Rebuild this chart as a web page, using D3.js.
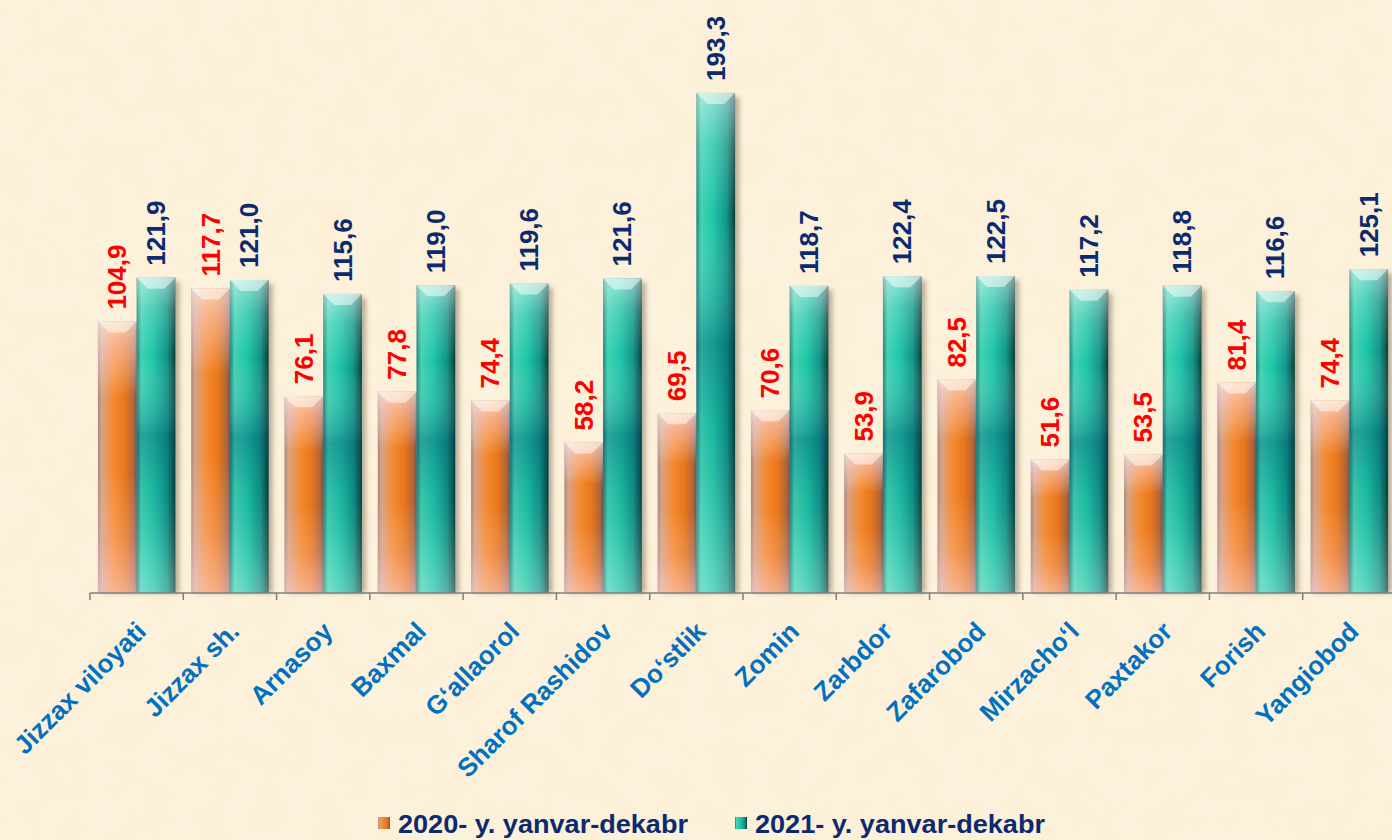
<!DOCTYPE html>
<meta charset="utf-8">
<script src="https://d3js.org/d3.v7.min.js"></script>
<style>
  body { margin: 0; background: #fcf0d9; }
  svg { display: block; font-family: "Liberation Sans", Arial, sans-serif; }
</style>
<div id="chart"></div>
<script>
  // data
  const districts = ["Jizzax viloyati", "Jizzax sh.", "Arnasoy", "Baxmal", "G‘allaorol", "Sharof Rashidov",
    "Do‘stlik", "Zomin", "Zarbdor", "Zafarobod", "Mirzacho‘l", "Paxtakor", "Forish", "Yangiobod"]
  const series = ["2020- y. yanvar-dekabr", "2021- y. yanvar-dekabr"]
  const values2020 = [104.9, 117.7, 76.1, 77.8, 74.4, 58.2, 69.5, 70.6, 53.9, 82.5, 51.6, 53.5, 81.4, 74.4]
  const values2021 = [121.9, 121.0, 115.6, 119.0, 119.6, 121.6, 193.3, 118.7, 122.4, 122.5, 117.2, 118.8, 116.6, 125.1]

  const W = 1392, H = 840
  const baseY = 593

  const svg = d3.select("#chart").append("svg")
    .attr("width", W).attr("height", H)

  const defs = svg.append("defs")

  // background with a faint mottled texture
  const tex = defs.append("filter").attr("id", "paper").attr("x", 0).attr("y", 0).attr("width", 1).attr("height", 1)
  tex.append("feTurbulence").attr("type", "fractalNoise").attr("baseFrequency", 0.035).attr("numOctaves", 2).attr("seed", 3)
  tex.append("feColorMatrix").attr("type", "matrix")
    .attr("values", "0 0 0 0 0.98  0 0 0 0 0.93  0 0 0 0 0.78  0 0 0 1.4 -0.55")
  svg.append("rect").attr("width", W).attr("height", H).attr("fill", "#fcf0d9")
  svg.append("rect").attr("width", W).attr("height", H).attr("filter", "url(#paper)").attr("opacity", 0.5)

  // gradients for the glassy cylinder bars
  function hGrad(id, stops) {
    const g = defs.append("linearGradient").attr("id", id).attr("x1", 0).attr("x2", 1).attr("y1", 0).attr("y2", 0)
    stops.forEach(s => g.append("stop").attr("offset", s[0]).attr("stop-color", s[1]))
  }
  function vGrad(id, stops) {
    const g = defs.append("linearGradient").attr("id", id).attr("x1", 0).attr("x2", 0).attr("y1", 0).attr("y2", 1)
    stops.forEach(s => g.append("stop").attr("offset", s[0]).attr("stop-color", s[1]).attr("stop-opacity", s[2]))
  }
  hGrad("orangeH", [["0%", "#a98a80"], ["10%", "#d9a184"], ["40%", "#f48a30"], ["70%", "#e8761c"], ["92%", "#b0643a"], ["100%", "#76544a"]])
  hGrad("tealH", [["0%", "#1d7f74"], ["12%", "#3fd2b3"], ["45%", "#1cc4a6"], ["78%", "#109488"], ["93%", "#0a5c52"], ["100%", "#06372f"]])
  vGrad("orangeV", [["0%", "#fff", 0.6], ["10%", "#ffe0ee", 0.45], ["28%", "#fff", 0.0], ["55%", "#fff", 0], ["80%", "#ffe0ee", 0.2], ["100%", "#ffe0ee", 0.5]])
  vGrad("tealV", [["0%", "#fff", 0.5], ["10%", "#fff", 0.2], ["25%", "#fff", 0], ["50%", "#064a6a", 0.35], ["68%", "#064a6a", 0.1], ["88%", "#fff", 0.15], ["100%", "#fff", 0.3]])
  const shadow = defs.append("filter").attr("id", "shadow").attr("x", -0.5).attr("y", -0.2).attr("width", 2).attr("height", 1.4)
  shadow.append("feGaussianBlur").attr("stdDeviation", 2.5)

  // scales
  const x0 = d3.scaleBand().domain(districts).range([90, 1396]).paddingInner(0.17).paddingOuter(0.085)
  const x1 = d3.scaleBand().domain(series).range([0, x0.bandwidth()])
  const y = d3.scaleLinear().domain([0, 200]).range([baseY, baseY - 517.4])

  const rows = districts.map((d, i) => ({ name: d, vals: [values2020[i], values2021[i]] }))
  const fills = [["orangeH", "orangeV"], ["tealH", "tealV"]]
  const labelColors = ["#ff0000", "#0b2a6f"]

  const groups = svg.selectAll("g.grp").data(rows).join("g")
    .attr("class", "grp")
    .attr("transform", d => `translate(${x0(d.name)},0)`)

  const bars = groups.selectAll("g.bar")
    .data(d => d.vals.map((v, k) => ({ v, k, s: series[k] })))
    .join("g").attr("class", "bar")

  // soft shadow on the right
  bars.append("rect")
    .attr("x", d => x1(d.s) + 4).attr("y", d => y(d.v) + 4)
    .attr("width", x1.bandwidth()).attr("height", d => baseY - y(d.v) - 4)
    .attr("fill", "#3a3020").attr("opacity", 0.35).attr("filter", "url(#shadow)")
  bars.append("rect")
    .attr("x", d => x1(d.s)).attr("y", d => y(d.v))
    .attr("width", x1.bandwidth()).attr("height", d => baseY - y(d.v))
    .attr("fill", d => `url(#${fills[d.k][0]})`)
  bars.append("rect")
    .attr("x", d => x1(d.s)).attr("y", d => y(d.v))
    .attr("width", x1.bandwidth()).attr("height", d => baseY - y(d.v))
    .attr("fill", d => `url(#${fills[d.k][1]})`)
  // bevelled top
  bars.append("polygon")
    .attr("points", d => {
      const xa = x1(d.s), w = x1.bandwidth(), t = y(d.v), b = 11
      return [[xa, t], [xa + w, t], [xa + w - b, t + b], [xa + b, t + b]].map(p => p.join(",")).join(" ")
    })
    .attr("fill", "#fff").attr("opacity", 0.5)

  // value labels, rotated
  bars.append("text")
    .attr("transform", d => `translate(${x1(d.s) + x1.bandwidth() / 2 + 9},${y(d.v) - 12}) rotate(-90)`)
    .attr("fill", d => labelColors[d.k])
    .style("font-size", "26px").style("font-weight", "bold")
    .text(d => d.v.toFixed(1).replace(".", ","))

  // axis line with ticks between categories
  const axis = svg.append("g")
  axis.append("line").attr("x1", 90).attr("x2", W).attr("y1", baseY).attr("y2", baseY)
    .attr("stroke", "#7f7f7f").attr("stroke-width", 1.5)
  const gap = (x0.step() - x0.bandwidth()) / 2
  axis.selectAll("line.tick").data(districts).join("line").attr("class", "tick")
    .attr("x1", d => x0(d) - gap).attr("x2", d => x0(d) - gap)
    .attr("y1", baseY).attr("y2", baseY + 7)
    .attr("stroke", "#7f7f7f").attr("stroke-width", 1.5)

  // category labels
  axis.selectAll("text").data(districts).join("text")
    .attr("transform", d => `translate(${x0(d) + x0.bandwidth() / 2 + 11},${baseY + 40}) rotate(-45)`)
    .attr("text-anchor", "end")
    .attr("fill", "#0070c0")
    .style("font-size", "26px").style("font-weight", "bold")
    .text(d => d)

  // legend
  const legendX = [378, 735]
  const legendGrad = ["orangeH", "tealH"]
  const legend = svg.selectAll("g.legend").data(series).join("g")
    .attr("class", "legend")
    .attr("transform", (d, i) => `translate(${legendX[i]},0)`)
  legend.append("rect").attr("x", 0).attr("y", 817).attr("width", 12).attr("height", 12)
    .attr("fill", (d, i) => `url(#${legendGrad[i]})`)
  legend.append("text").attr("x", 20).attr("y", 833)
    .attr("fill", "#0b2a6f")
    .attr("textLength", 290).attr("lengthAdjust", "spacingAndGlyphs")
    .style("font-size", "25px").style("font-weight", "bold")
    .text(d => d)
</script>
